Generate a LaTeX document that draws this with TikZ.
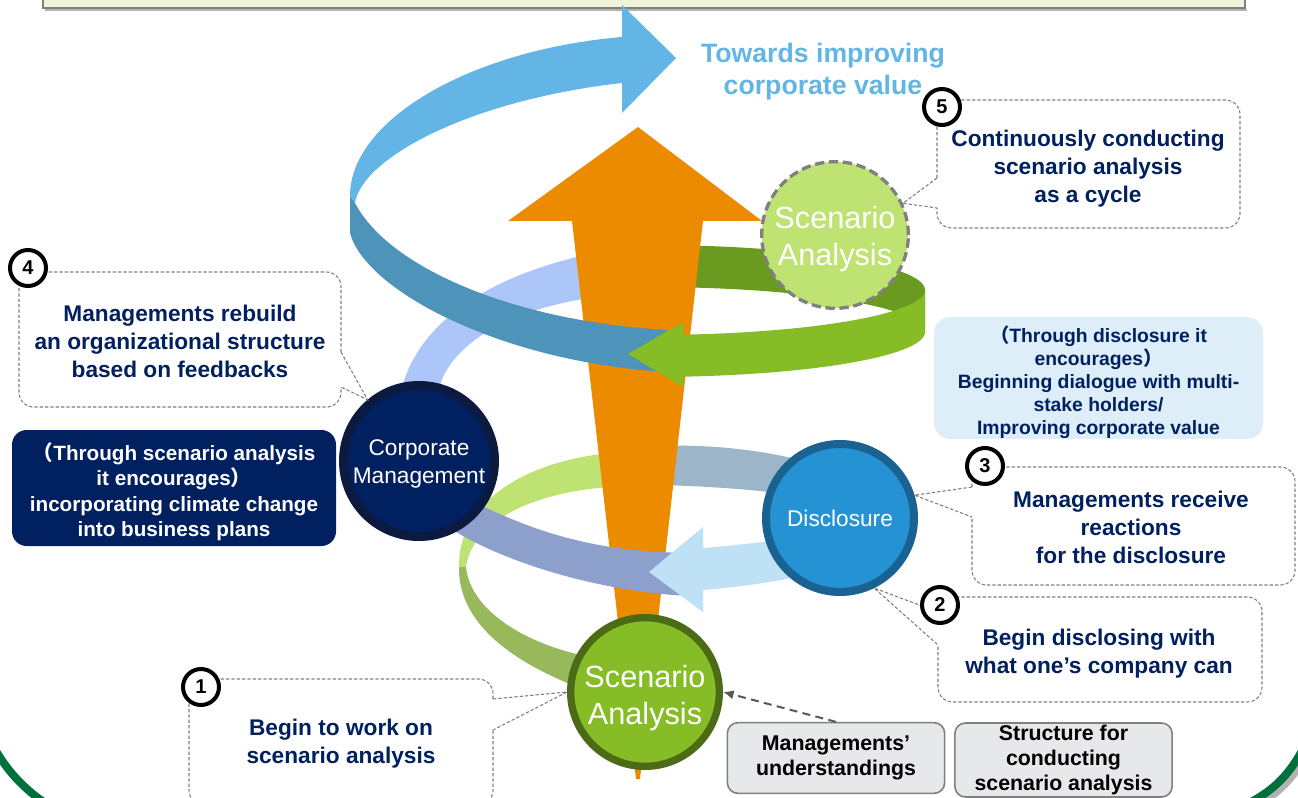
\documentclass[tikz,border=0pt]{standalone}
\usepackage{fontspec}
\setmainfont{Liberation Sans}
\newfontfamily\cjkfont{Noto Sans CJK JP}
\usepackage{tikz}
\usetikzlibrary{arrows.meta,positioning,calc}
\definecolor{Navy}{HTML}{002060}
\definecolor{NavyRim}{HTML}{0C1A3F}
\definecolor{Sky}{HTML}{63B5E5}
\definecolor{Steel}{HTML}{4E93B9}
\definecolor{Leaf}{HTML}{86BC25}
\definecolor{LeafDark}{HTML}{6B9A21}
\definecolor{LeafRim}{HTML}{4B6B16}
\definecolor{Lime}{HTML}{BEE372}
\definecolor{Moss}{HTML}{97B85B}
\definecolor{Lavender}{HTML}{ADC6FA}
\definecolor{Periwinkle}{HTML}{8CA0CB}
\definecolor{Slate}{HTML}{9CB5C8}
\definecolor{Ice}{HTML}{BFE1F6}
\definecolor{Amber}{HTML}{EC8A00}
\definecolor{Azure}{HTML}{2592D3}
\definecolor{AzureRim}{HTML}{1A6291}
\definecolor{Frost}{HTML}{DDEEF9}
\definecolor{Chalk}{HTML}{E7E8E9}
\definecolor{Pine}{HTML}{00703C}
\definecolor{Pale}{HTML}{EEF5DA}

\begin{document}
\begin{tikzpicture}[
  x=0.75pt,y=-0.75pt,
  hub/.style={circle,inner sep=0pt},
  hubtext/.style={text=white,align=center,inner sep=0pt,font=\fontsize{17}{21}\selectfont},
  callout/.style={draw=gray,line width=0.8pt,dash pattern=on 2.5pt off 1.5pt},
  calltext/.style={text=Navy,align=center,inner sep=0pt,font=\bfseries\fontsize{17}{21}\selectfont},
  badge/.style={circle,draw=black,line width=3pt,fill=white,minimum size=27pt,inner sep=0pt,font=\bfseries\fontsize{15}{15}\selectfont},
  basebox/.style={draw=gray,line width=1.2pt,fill=Chalk,rounded corners=8pt,minimum width=163pt,minimum height=53pt,inner sep=0pt,align=center,font=\bfseries\fontsize{16}{18.75}\selectfont},
  dasharr/.style={draw=black!65,line width=1.5pt,dash pattern=on 6pt off 4pt,-{Latex[length=8pt,width=7pt]}}
]
\useasboundingbox (0,0) rectangle (1298,798);
\clip (0,0) rectangle (1298,798);
\fill[white] (0,0) rectangle (1298,798);
\fill[Pale] (43,-5) rectangle (1245,8);
\draw[gray!60,line width=1.5pt] (45,10) -- (1247,10);
\draw[gray,line width=1pt] (43,-5) -- (43,8) -- (1245,8) -- (1245,-5);
\draw[gray!60,line width=6pt] (1309,749) .. controls (1294,779) and (1276,796) .. (1249,809);
\draw[Pine,line width=6pt] (-10,740) .. controls (5,770) and (25,790) .. (48,805);
\draw[Pine,line width=6pt] (1305,745) .. controls (1290,775) and (1272,792) .. (1245,805);

\fill[Lavender] (402,388) .. controls (415,335) and (470,280) .. (590,254) -- (590,298) .. controls (520,308) and (455,338) .. (440,385) -- cycle;
\fill[LeafDark] plot[domain=92:0,samples=40] ({650+275*cos(\x)},{290-45*sin(\x)}) -- plot[domain=0:92,samples=40] ({650+275*cos(\x)},{332-45*sin(\x)}) -- cycle;
\fill[Lime] (610,453) .. controls (520,462) and (458,505) .. (459,567) -- (466,567) .. controls (472,525) and (525,493) .. (610,487) -- cycle;
\fill[Slate] (655,446) .. controls (710,444) and (760,450) .. (800,460) -- (800,496) .. controls (760,490) and (710,486) .. (655,485) -- cycle;
\fill[Amber] (508,221) -- (638,127) -- (762,221) -- (703,221) -- (640,779) -- (636,779) -- (572,221) -- cycle;
\fill[Moss] (459,567) .. controls (458,622) and (510,662) .. (585,690) -- (585,656) .. controls (520,642) and (470,608) .. (466,567) -- cycle;
\fill[Periwinkle] (470,500) .. controls (540,535) and (600,552) .. (690,553) -- (690,596) .. controls (600,592) and (500,562) .. (445,525) -- cycle;
\fill[Ice] (800,538) .. controls (770,541) and (730,546) .. (703,548) -- (703,527) -- (649,572) -- (703,612) -- (703,590) .. controls (740,587) and (775,582) .. (805,575) -- cycle;
\fill[Steel] (350,196) -- (355,203) .. controls (390,270) and (520,322) .. (667,330) -- (667,372) .. controls (500,362) and (365,290) .. (350,233) -- cycle;
\fill[Sky] (350,196) .. controls (350,120) and (470,50) .. (622,37) -- (622,5) -- (676,58) -- (622,113) -- (622,83) .. controls (470,100) and (362,158) .. (355,203) -- cycle;
\fill[Leaf] plot[domain=0:-83,samples=40] ({650+275*cos(\x)},{290-45*sin(\x)}) -- (683,322) -- (628,354) -- (683,387) -- plot[domain=-83:0,samples=40] ({650+275*cos(\x)},{332-45*sin(\x)}) -- cycle;

\node[hub,fill=Lime,draw=gray,line width=2.5pt,dash pattern=on 7pt off 3.5pt,minimum size=110pt] (scentop) at (835,235) {};
\node[hub,fill=Navy,draw=NavyRim,line width=6.5pt,minimum size=113.5pt] (corp) at (419,461) {};
\node[hub,fill=Azure,draw=AzureRim,line width=6pt,minimum size=111pt] (disc) at (840,518) {};
\node[hub,fill=Leaf,draw=LeafRim,line width=5.5pt,minimum size=111.5pt] (scenbase) at (645,692) {};
\node[hubtext,font=\fontsize{23}{28}\selectfont] (scentoptext) at ([yshift=-3pt]scentop.center) {Scenario\\Analysis};
\node[hubtext] (corptext) at ([yshift=-2.2pt]corp.center) {Corporate\\Management};
\node[hubtext] (disctext) at (disc.center) {Disclosure};
\node[hubtext,font=\fontsize{23}{28}\selectfont] (scenbasetext) at ([yshift=-4.5pt]scenbase.center) {Scenario\\Analysis};

\node[text=Sky,align=center,inner sep=0pt,font=\bfseries\fontsize{20}{24}\selectfont] (goal) at (823,72) {Towards improving\\corporate value};

\draw[callout,rounded corners=11pt] (937,178) -- (937,100) -- (1240,100) -- (1240,228) -- (937,228) -- (937,208);
\draw[callout] (937,178) -- (scentop.25) -- (937,208);
\draw[callout,rounded corners=11pt] (341,352) -- (341,272) -- (19,272) -- (19,407) -- (341,407) -- (341,387);
\draw[callout] (341,352) -- (corp.130) -- (341,387);
\draw[callout,rounded corners=11pt] (972,487) -- (972,467) -- (1295,467) -- (1295,585) -- (972,585) -- (972,517);
\draw[callout] (972,487) -- (disc.17) -- (972,517);
\draw[callout,rounded corners=11pt] (938,612) -- (938,597) -- (1262,597) -- (1262,702) -- (938,702) -- (938,645);
\draw[callout] (938,612) -- (disc.-64) -- (938,645);
\draw[callout,rounded corners=11pt] (493,699) -- (493,679) -- (189,679) -- (189,805) -- (493,805) -- (493,730);
\draw[callout] (493,699) -- (scenbase.180) -- (493,730);

\node[calltext] (txt5) at (1088,169) {Continuously conducting\\scenario analysis\\as a cycle};
\node[calltext] (txt4) at (180,341) {Managements rebuild\\an organizational structure\\based on feedbacks};
\node[calltext] (txt3) at (1131,527) {Managements receive\\reactions\\ for the disclosure};
\node[calltext] (txt2) at (1099,654) {Begin disclosing with\\what one’s company can};
\node[calltext] (txt1) at (341,744) {Begin to work on\\scenario analysis};

\node[fill=Navy,rounded corners=11pt,minimum width=243pt,minimum height=87pt,inner sep=0pt,text=white,align=center,font=\bfseries\fontsize{15.5}{19}\selectfont] (navybox) at (174,488) {\rule{0pt}{19pt}{\cjkfont （}Through scenario analysis\\it encourages{\cjkfont ）}\\incorporating climate change\\into business plans};
\node[fill=Frost,rounded corners=12pt,minimum width=246.75pt,minimum height=88.5pt,inner sep=0pt,text=Navy,align=center,font=\bfseries\fontsize{14.5}{17.3}\selectfont] (frostbox) at (1098.5,378) {\rule{0pt}{19pt}{\cjkfont （}Through disclosure it\\encourages{\cjkfont ）}\\Beginning dialogue with multi-\\stake holders/\\Improving corporate value};

\node[badge] (badge5) at (942,107) {5};
\node[badge] (badge4) at (28,268) {4};
\node[badge] (badge3) at (985,466) {3};
\node[badge] (badge2) at (940,605) {2};
\node[badge] (badge1) at (201,687) {1};

\node[basebox] (mgmtbox) at (836,758) {Managements’\\understandings};
\node[basebox,minimum height=55.5pt] (structbox) at (1063.5,760) {Structure for\\conducting\\scenario analysis};
\draw[dasharr] (mgmtbox.north) -- (scenbase.east);
\end{tikzpicture}
\end{document}
